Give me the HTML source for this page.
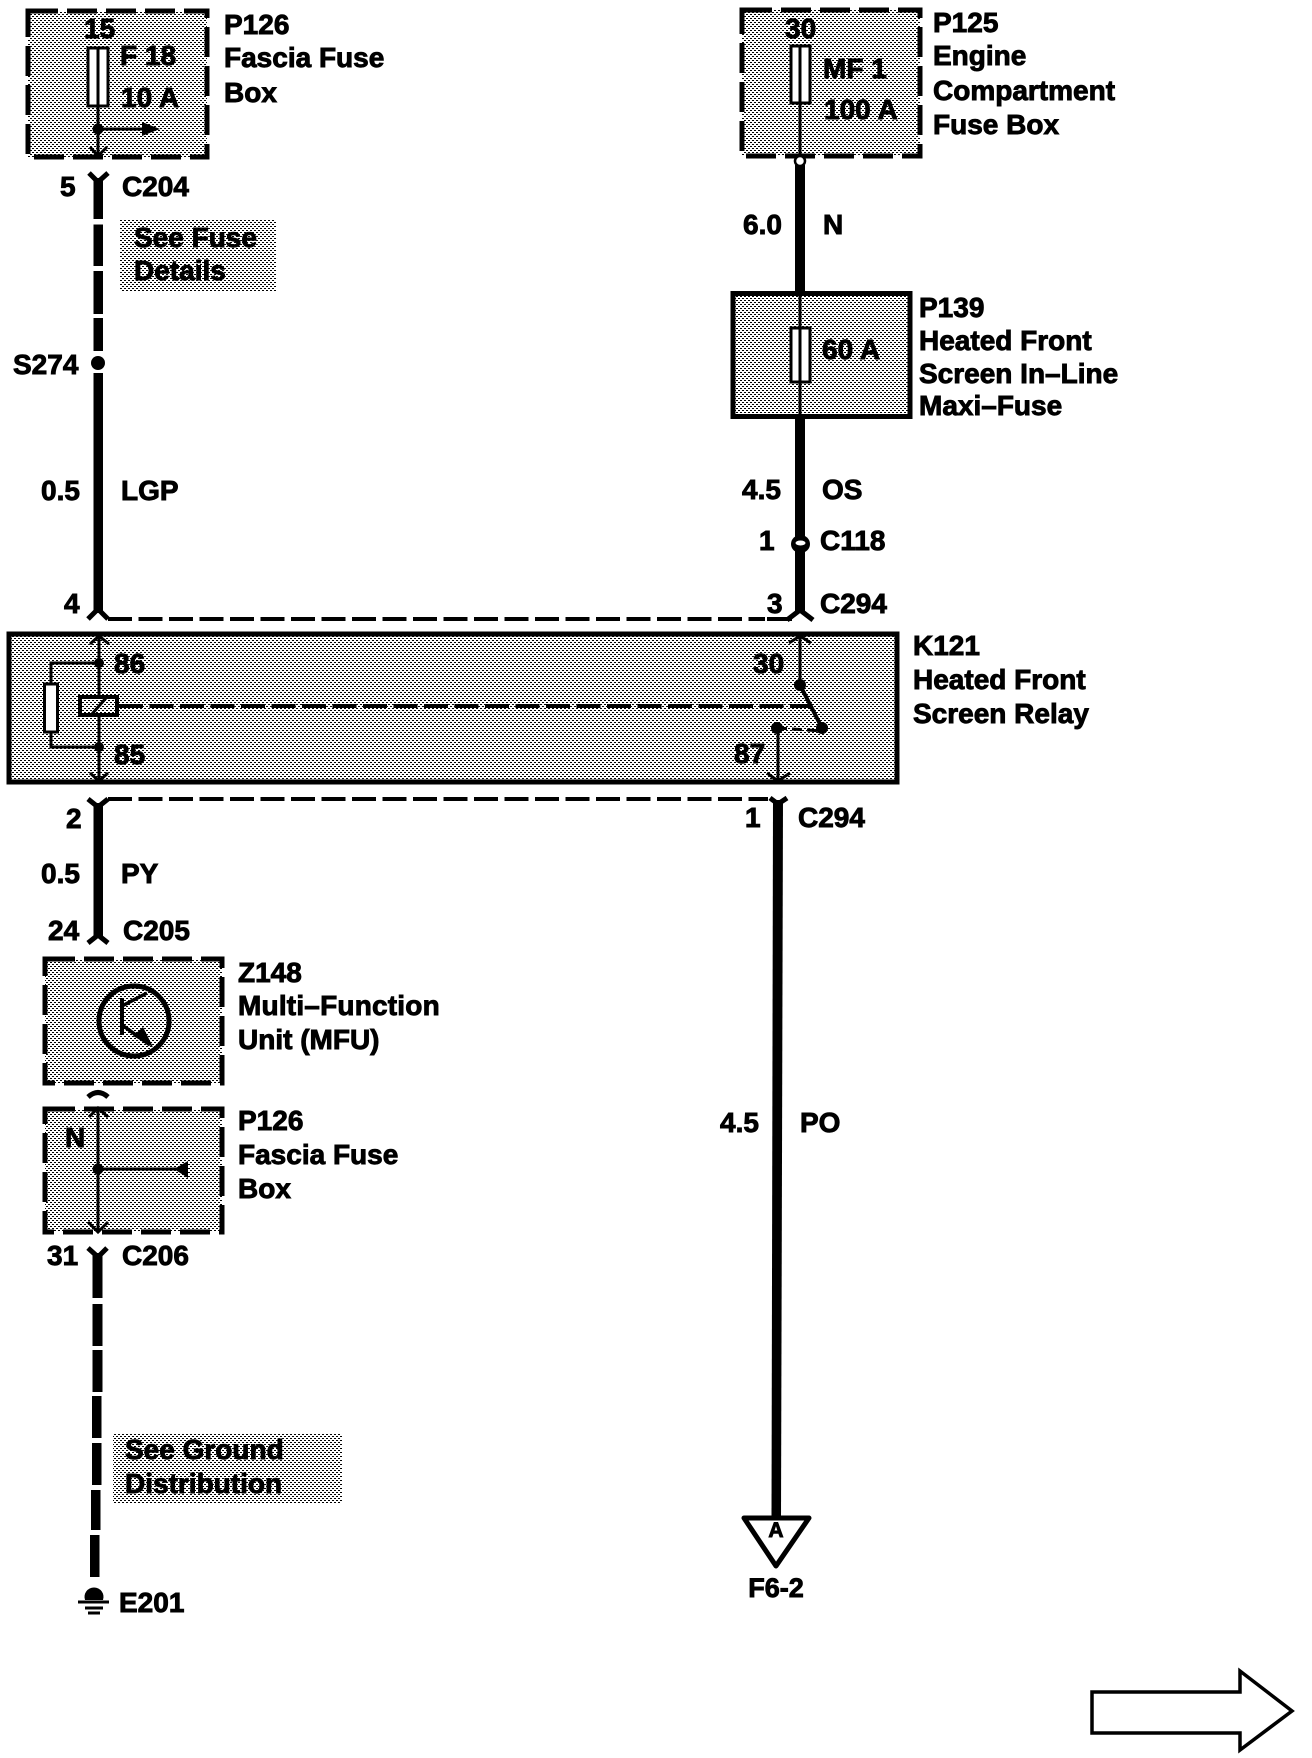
<!DOCTYPE html>
<html><head><meta charset="utf-8"><style>
html,body{margin:0;padding:0;background:#fff}
svg{display:block}
text{font-family:"Liberation Sans",sans-serif;font-weight:bold;font-size:28px;fill:#000;stroke:#000;stroke-width:.9px}
</style></head><body>
<svg width="1312" height="1758" viewBox="0 0 1312 1758" xmlns="http://www.w3.org/2000/svg">
<defs>
<pattern id="d" width="4" height="4" patternUnits="userSpaceOnUse">
<rect width="4" height="4" fill="#fff"/>
<rect x="0" y="0" width="2" height="1" fill="#000"/>
<rect x="2" y="2" width="2" height="1" fill="#000"/>
</pattern>
</defs>

<!-- P126 top box -->
<rect x="28" y="11" width="179" height="146" fill="url(#d)" stroke="#000" stroke-width="5" stroke-dasharray="30 9"/>
<rect x="88" y="48" width="20" height="58" fill="#fff" stroke="#000" stroke-width="3"/>
<line x1="98" y1="48" x2="98" y2="156" stroke="#000" stroke-width="3"/>
<circle cx="98" cy="129" r="5.5"/>
<line x1="98" y1="129" x2="146" y2="129" stroke="#000" stroke-width="3"/>
<polygon points="142,122 160,129 142,136"/>
<polyline points="90,147 98,156 107,147" fill="none" stroke="#000" stroke-width="3"/>
<text x="84" y="38">15</text><text x="120" y="65">F 18</text><text x="121" y="107">10 A</text>
<text x="224" y="34">P126</text><text x="224" y="67">Fascia Fuse</text><text x="224" y="102">Box</text>

<!-- Left upper wire -->
<polyline points="89,173 98,182 108,173" fill="none" stroke="#000" stroke-width="5"/>
<rect x="93.5" y="178" width="9.5" height="41"/>
<rect x="93.5" y="224.5" width="9.5" height="41.5"/>
<rect x="93.5" y="271" width="9.5" height="43"/>
<rect x="93.5" y="318" width="9.5" height="33"/>
<circle cx="98" cy="363" r="7"/>
<rect x="93.5" y="373" width="9.5" height="240"/>
<polyline points="88,619 98,609 108,619" fill="none" stroke="#000" stroke-width="5"/>
<text x="60" y="196">5</text><text x="122" y="196">C204</text>
<rect x="120" y="220" width="156" height="72" fill="url(#d)"/>
<text x="134" y="247">See Fuse</text><text x="134" y="280">Details</text>
<text x="13" y="374">S274</text><text x="41" y="500">0.5</text><text x="121" y="500">LGP</text><text x="64" y="613">4</text>

<!-- dashed harness lines -->
<line x1="108" y1="619" x2="765" y2="619" stroke="#000" stroke-width="4" stroke-dasharray="24 6.5"/>
<line x1="767" y1="619" x2="792" y2="619" stroke="#000" stroke-width="4"/>
<line x1="108" y1="799" x2="768" y2="799" stroke="#000" stroke-width="4" stroke-dasharray="24 6.5"/>

<!-- P125 -->
<rect x="742" y="10" width="178" height="146" fill="url(#d)" stroke="#000" stroke-width="5" stroke-dasharray="30 9"/>
<rect x="791" y="46" width="19" height="57" fill="#fff" stroke="#000" stroke-width="3"/>
<line x1="800" y1="46" x2="800" y2="160" stroke="#000" stroke-width="3"/>
<text x="785" y="38">30</text><text x="823" y="78">MF 1</text><text x="824" y="119">100 A</text>
<text x="933" y="32">P125</text><text x="933" y="65">Engine</text><text x="933" y="100">Compartment</text><text x="933" y="134">Fuse Box</text>
<rect x="795" y="165" width="10" height="128"/>
<circle cx="800" cy="161" r="5" fill="#fff" stroke="#000" stroke-width="2.5"/>
<text x="743" y="234">6.0</text><text x="823" y="234">N</text>

<!-- P139 -->
<rect x="733" y="293.500" width="177" height="123" fill="url(#d)" stroke="#000" stroke-width="5"/>
<line x1="800" y1="293" x2="800" y2="416" stroke="#000" stroke-width="3"/>
<rect x="791" y="328" width="19" height="54" fill="#fff" stroke="#000" stroke-width="3"/>
<line x1="800" y1="328" x2="800" y2="382" stroke="#000" stroke-width="3"/>
<text x="822" y="359">60 A</text>
<text x="919" y="317">P139</text><text x="919" y="350">Heated Front</text><text x="919" y="383">Screen In–Line</text><text x="919" y="415">Maxi–Fuse</text>
<rect x="795" y="416" width="10" height="196"/>
<text x="742" y="499">4.5</text><text x="822" y="499">OS</text>
<ellipse cx="800.500" cy="544" rx="9.500" ry="9"/>
<ellipse cx="800.500" cy="543" rx="5" ry="2.500" fill="#fff"/>
<polyline points="787,620 800,610 813,620" fill="none" stroke="#000" stroke-width="5"/>
<text x="759" y="550">1</text><text x="820" y="550">C118</text><text x="767" y="613">3</text><text x="820" y="613">C294</text>

<!-- K121 relay -->
<rect x="9" y="634" width="888" height="148" fill="url(#d)" stroke="#000" stroke-width="5"/>
<line x1="99" y1="636" x2="99" y2="781" stroke="#000" stroke-width="3"/>
<polyline points="90,644 99,636 109,644" fill="none" stroke="#000" stroke-width="3"/>
<polyline points="90,773 99,781 108,773" fill="none" stroke="#000" stroke-width="3"/>
<circle cx="99" cy="663" r="5"/><circle cx="99" cy="747" r="5"/>
<polyline points="99,663 51,663 51,683" fill="none" stroke="#000" stroke-width="3"/>
<polyline points="51,732 51,747 99,747" fill="none" stroke="#000" stroke-width="3"/>
<rect x="44.500" y="684" width="13" height="48" fill="#fff" stroke="#000" stroke-width="3"/>
<rect x="80" y="697" width="37" height="18" fill="url(#d)" stroke="#000" stroke-width="4"/>
<line x1="92" y1="714" x2="106" y2="698" stroke="#000" stroke-width="3"/>
<line x1="119" y1="706" x2="812" y2="706" stroke="#000" stroke-width="4" stroke-dasharray="24 6.500"/>
<text x="114" y="673">86</text><text x="114" y="764">85</text>
<line x1="800" y1="636" x2="800" y2="685" stroke="#000" stroke-width="3"/>
<polyline points="789,643 800,636 811,643" fill="none" stroke="#000" stroke-width="3"/>
<circle cx="800" cy="685" r="6"/>
<line x1="800" y1="685" x2="822" y2="728" stroke="#000" stroke-width="4"/>
<circle cx="822" cy="728" r="6"/><circle cx="777" cy="728" r="6"/>
<line x1="777" y1="728" x2="822" y2="731" stroke="#000" stroke-width="3" stroke-dasharray="10 5"/>
<line x1="778" y1="728" x2="778" y2="781" stroke="#000" stroke-width="3"/>
<polyline points="767,773 778,781 790,773" fill="none" stroke="#000" stroke-width="3"/>
<text x="753" y="673">30</text><text x="734" y="763">87</text>
<text x="913" y="655">K121</text><text x="913" y="689">Heated Front</text><text x="913" y="723">Screen Relay</text>

<!-- lower left wire -->
<polyline points="88,799 98,807 108,799" fill="none" stroke="#000" stroke-width="5"/>
<rect x="93.500" y="803" width="9.500" height="134"/>
<polyline points="88,943 98,935 108,943" fill="none" stroke="#000" stroke-width="5"/>
<text x="66" y="828">2</text><text x="41" y="883">0.5</text><text x="121" y="883">PY</text>
<text x="48" y="940">24</text><text x="123" y="940">C205</text>

<!-- Z148 -->
<rect x="45" y="959" width="177" height="124" fill="url(#d)" stroke="#000" stroke-width="5" stroke-dasharray="30 9"/>
<circle cx="134" cy="1021" r="35" fill="none" stroke="#000" stroke-width="5"/>
<line x1="122" y1="998" x2="122" y2="1035" stroke="#000" stroke-width="4"/>
<line x1="122" y1="1006" x2="147" y2="993" stroke="#000" stroke-width="3.500"/>
<line x1="122" y1="1025" x2="150" y2="1045" stroke="#000" stroke-width="3.500"/>
<polygon points="133,1036 143,1027 153,1047"/>
<text x="238" y="982">Z148</text><text x="238" y="1015" style="letter-spacing:.2px">Multi–Function</text><text x="238" y="1049">Unit (MFU)</text>
<path d="M88,1097 Q98,1088 108,1097" fill="none" stroke="#000" stroke-width="5"/>

<!-- P126 lower -->
<rect x="45" y="1109" width="177" height="123" fill="url(#d)" stroke="#000" stroke-width="5" stroke-dasharray="30 9"/>
<line x1="98" y1="1108" x2="98" y2="1232" stroke="#000" stroke-width="3"/>
<polyline points="89,1117 98,1108 108,1117" fill="none" stroke="#000" stroke-width="3"/>
<polyline points="88,1222 98,1232 108,1222" fill="none" stroke="#000" stroke-width="3"/>
<circle cx="98" cy="1169" r="5.500"/>
<line x1="98" y1="1169" x2="178" y2="1169" stroke="#000" stroke-width="3"/>
<polygon points="188,1161 188,1178 174,1169"/>
<text x="65" y="1147">N</text>
<text x="238" y="1130">P126</text><text x="238" y="1164">Fascia Fuse</text><text x="238" y="1198">Box</text>
<text x="47" y="1265">31</text><text x="122" y="1265">C206</text>

<!-- ground wire -->
<polyline points="88,1248 98,1257 107,1248" fill="none" stroke="#000" stroke-width="5"/>
<rect x="92.500" y="1253" width="10" height="45"/>
<rect x="92.500" y="1304" width="10" height="42"/>
<rect x="92.500" y="1350" width="10" height="42"/>
<rect x="92" y="1396" width="9.500" height="42"/>
<rect x="92" y="1443" width="9.500" height="42"/>
<rect x="91" y="1490" width="9.500" height="40"/>
<rect x="90" y="1535" width="9.500" height="42"/>
<path d="M85,1600 A9.500,9.500 0 1 1 103,1600 Z"/>
<line x1="78" y1="1602" x2="109" y2="1602" stroke="#000" stroke-width="3"/>
<line x1="85" y1="1608" x2="103" y2="1608" stroke="#000" stroke-width="3"/>
<line x1="88" y1="1613" x2="100" y2="1613" stroke="#000" stroke-width="3"/>
<rect x="113" y="1433" width="229" height="70" fill="url(#d)"/>
<text x="125" y="1459">See Ground</text><text x="125" y="1493">Distribution</text>
<text x="119" y="1612">E201</text>

<!-- PO wire -->
<polyline points="770,798 778,804 787,798" fill="none" stroke="#000" stroke-width="5"/>
<polygon points="773,800 783,800 781,1518 771.500,1518"/>
<text x="745" y="827">1</text><text x="798" y="827">C294</text>
<text x="720" y="1132">4.5</text><text x="800" y="1132">PO</text>
<polygon points="744,1518 809,1518 776,1566" fill="#fff" stroke="#000" stroke-width="5" stroke-linejoin="round"/>
<text x="776" y="1537" text-anchor="middle" style="font-size:21px">A</text>
<text x="776" y="1597" text-anchor="middle" style="font-size:27px">F6-2</text>

<!-- page arrow -->
<polygon points="1092,1692 1240,1692 1240,1671 1292,1711 1240,1750 1240,1733 1092,1733" fill="#fff" stroke="#000" stroke-width="3.500"/>
</svg>
</body></html>
